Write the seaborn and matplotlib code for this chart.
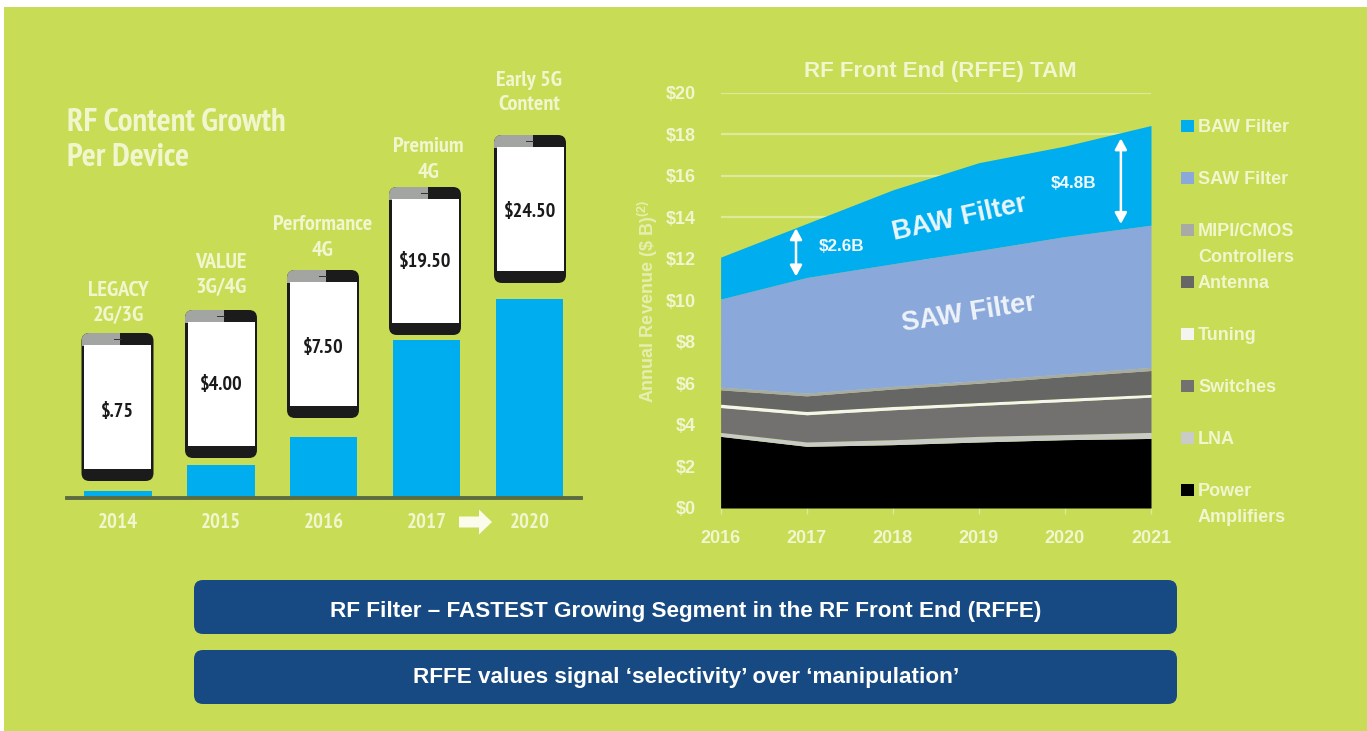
import matplotlib
matplotlib.use("Agg")
import matplotlib.pyplot as plt
from matplotlib.patches import FancyBboxPatch, Rectangle, FancyArrow
import seaborn as sns

# Per-device RF content
device_years = ["2014", "2015", "2016", "2017", "2020"]
device_content = [0.75, 4.00, 7.50, 19.50, 24.50]
device_prices = ["$.75", "$4.00", "$7.50", "$19.50", "$24.50"]
device_tiers = ["LEGACY\n2G/3G", "VALUE\n3G/4G", "Performance\n4G", "Premium\n4G", "Early 5G\nContent"]

# RFFE market by segment, $B per year
tam_years = [2016, 2017, 2018, 2019, 2020, 2021]
power_amplifiers = [3.45, 2.97, 3.05, 3.18, 3.29, 3.35]
lna = [0.19, 0.21, 0.24, 0.27, 0.25, 0.29]
switches = [1.20, 1.31, 1.44, 1.49, 1.59, 1.70]
tuning = [0.16, 0.16, 0.16, 0.14, 0.15, 0.13]
antenna = [0.69, 0.75, 0.84, 0.93, 1.05, 1.15]
mipi_cmos = [0.13, 0.13, 0.12, 0.13, 0.13, 0.15]
saw_filter = [4.24, 5.57, 5.91, 6.26, 6.61, 6.85]
baw_filter = [2.02, 2.60, 3.56, 4.23, 4.36, 4.80]

segment_names = ["Power\nAmplifiers", "LNA", "Switches", "Tuning", "Antenna",
                 "MIPI/CMOS\nControllers", "SAW Filter", "BAW Filter"]
segment_colors = ["#000000", "#C9CBC6", "#737170", "#F4F5EE", "#666664",
                  "#A8AAA6", "#8BA8DA", "#00ADEE"]

banner_lines = ["RF Filter \u2013 FASTEST Growing Segment in the RF Front End (RFFE)",
                "RFFE values signal \u2018selectivity\u2019 over \u2018manipulation\u2019"]

W, H = 1367, 731
GREEN = "#C8DC55"
PALE = "#F1F6CF"
BLUE = "#00ADEE"
NARROW = ["PT Sans Narrow", "Liberation Sans"]

sns.set_theme(style="white")
plt.rcParams["font.family"] = ["Liberation Sans", "DejaVu Sans"]
plt.rcParams["font.weight"] = "bold"
plt.rcParams["mathtext.default"] = "regular"

fig = plt.figure(figsize=(W / 100, H / 100), dpi=100, facecolor="white")


def axes_from_pixels(left, top, right, bottom, **kw):
    return fig.add_axes([left / W, 1 - bottom / H, (right - left) / W, (bottom - top) / H], **kw)


# Pixel-space canvas for the panel background, phones, legend and banners
canvas = axes_from_pixels(0, 0, W, H, zorder=0)
canvas.set_xlim(0, W)
canvas.set_ylim(H, 0)
canvas.axis("off")
canvas.add_patch(Rectangle((4, 7), W - 4, H - 7, color=GREEN, lw=0))

# Left panel: content bars
bars = axes_from_pixels(66.5, 120, 581, 497.5, zorder=1)
bars.patch.set_alpha(0)
sns.barplot(x=device_years, y=device_content, color=BLUE, saturation=1, width=0.655,
            edgecolor="none", linewidth=0, ax=bars)
bars.set_xlim(-0.5, 4.5)
bars.set_ylim(0, 377.5 / 8.1)
bars.set_yticks([])
bars.set_xlabel("")
bars.set_ylabel("")
sns.despine(ax=bars, left=True)
bars.spines["bottom"].set_color("#5C6B40")
bars.spines["bottom"].set_linewidth(2.8)
bars.tick_params(axis="x", length=0, pad=11, labelsize=15, labelcolor=PALE)
for lab in bars.get_xticklabels():
    lab.set_fontfamily(NARROW)
    lab.set_fontweight("bold")

canvas.text(67, 123, "RF Content Growth", color=PALE, family=NARROW, fontsize=23.7, va="center")
canvas.text(67, 158, "Per Device", color=PALE, family=NARROW, fontsize=23.7, va="center")
canvas.add_patch(FancyArrow(459, 522, 33, 0, width=11, head_width=25, head_length=13,
                            length_includes_head=True, color="#FBFCEB", lw=0))

# Phones above each bar
phone_centers = [117.5, 221, 323, 425, 530]
phone_tops = [333, 310, 270, 187, 135]
tier_centers = [118, 221, 323, 428, 529]
tier_offsets = [43, 48, 45, 40, 55]
price_rows = [412, 385, 348, 262, 212]
PHONE_W, PHONE_H, BAND = 72, 148, 12
for cx, top, price, price_y, tier, tx, off in zip(phone_centers, phone_tops, device_prices, price_rows,
                                                  device_tiers, tier_centers, tier_offsets):
    x0 = cx - PHONE_W / 2
    body = FancyBboxPatch((x0, top), PHONE_W, PHONE_H, boxstyle="round,pad=0,rounding_size=8",
                          fc="#1B1B1B", ec="none")
    canvas.add_patch(body)
    band = Rectangle((x0, top), PHONE_W * 0.54, BAND + 1, fc="#A3A5A2", ec="none")
    canvas.add_patch(band)
    band.set_clip_path(body)
    canvas.add_patch(Rectangle((x0 + 32, top + 5.5), 8, 1, fc="#333333", ec="none"))
    canvas.add_patch(Rectangle((x0 + 2.5, top + BAND), PHONE_W - 5, PHONE_H - 2 * BAND - 0.5, fc="white", ec="none"))
    canvas.text(cx, price_y, price, color="#1A1A1A", family=NARROW, fontsize=14.5, ha="center", va="center")
    l1, l2 = tier.split("\n")
    canvas.text(tx, top - off, l1, color=PALE, family=NARROW, fontsize=16, ha="center", va="center")
    canvas.text(tx, top - off + 25, l2, color=PALE, family=NARROW, fontsize=16, ha="center", va="center")

# Right panel: stacked market areas
area = axes_from_pixels(720.6, 92.7, 1151, 508, zorder=1)
area.patch.set_alpha(0)
area.stackplot(tam_years, power_amplifiers, lna, switches, tuning, antenna, mipi_cmos,
               saw_filter, baw_filter, colors=segment_colors, linewidth=0, zorder=2)
area.set_xlim(2016, 2021)
area.set_ylim(0, 20)
area.set_xticks(tam_years)
area.set_yticks(range(0, 21, 2))
area.set_yticklabels([f"${v}" for v in range(0, 21, 2)])
area.grid(axis="y", color="#DDE99B", lw=1.6, zorder=1)
area.grid(axis="x", visible=False)
sns.despine(ax=area, left=True, bottom=True)
area.tick_params(axis="y", length=0, pad=18, labelsize=13, labelcolor=PALE)
area.tick_params(axis="x", bottom=True, length=4, width=1, color="#DDE99B", pad=12, labelsize=13, labelcolor=PALE)
area.set_title("RF Front End (RFFE) TAM", color=PALE, fontsize=16, fontweight="bold", pad=11.5, x=0.51)
area.set_axisbelow(True)

canvas.text(648, 301, "Annual Revenue (\\$ B)$^{(2)}$", color="#E6EFB0", fontsize=13, rotation=90,
            ha="center", va="center")

area.text(2018.78, 13.96, "BAW Filter", color="#EAF6FB", fontsize=19.5, rotation=12.4, ha="center", va="center")
area.text(2018.88, 9.39, "SAW Filter", color="#EEF3FA", fontsize=19.5, rotation=9, ha="center", va="center")
area.text(2017.40, 12.6, "\\$2.6B", color="#F0F9FD", fontsize=12.3, ha="center", va="center")
area.text(2020.10, 15.65, "\\$4.8B", color="#F0F9FD", fontsize=12.3, ha="center", va="center")
for ax_x, y_hi, y_lo in [(2016.876, 13.47, 11.15), (2020.65, 17.8, 13.68)]:
    area.annotate("", xy=(ax_x, y_hi), xytext=(ax_x, y_lo),
                  arrowprops=dict(arrowstyle="<|-|>,head_width=0.3,head_length=0.55", color="white",
                                  lw=1.8, shrinkA=0, shrinkB=0), zorder=5)

# Hand-spaced legend, top to bottom
legend_rows = [126, 178, 230, 282, 334, 386, 438, 490]
for y, name, color in zip(legend_rows, segment_names[::-1], segment_colors[::-1]):
    canvas.add_patch(Rectangle((1181, y - 6), 13, 12, fc=color, ec="none"))
    for k, line in enumerate(name.split("\n")):
        canvas.text(1198, y + 2 + k * 26, line, color=PALE, fontsize=13, va="center")

# Banners
for (top, bottom), text_y, line in zip([(580, 634), (650, 704)], [612, 678], banner_lines):
    canvas.add_patch(FancyBboxPatch((194, top), 983, bottom - top, boxstyle="round,pad=0,rounding_size=9",
                                    fc="#174A82", ec="none"))
    canvas.text(686, text_y, line, color="white", fontsize=16.2, ha="center", va="center")

fig.savefig("out.png", dpi=100, facecolor="white")
